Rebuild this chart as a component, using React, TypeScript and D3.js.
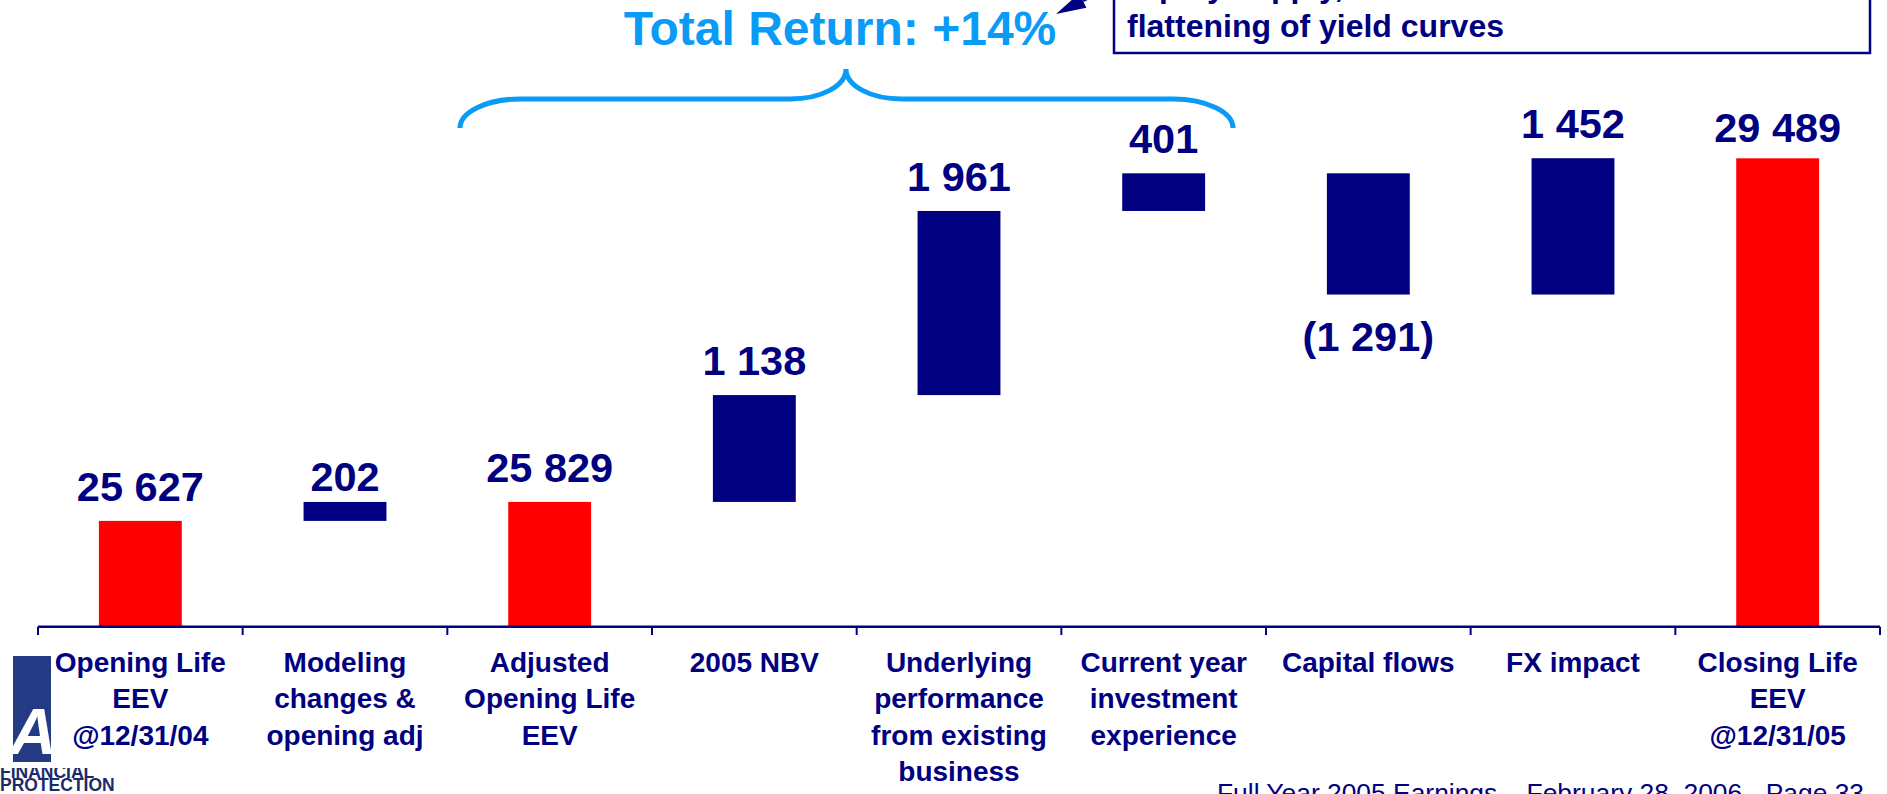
import React from "react";
import * as d3 from "d3";

const categories: string[][] = [
  ["Opening Life", "EEV", "@12/31/04"],
  ["Modeling", "changes &", "opening adj"],
  ["Adjusted", "Opening Life", "EEV"],
  ["2005 NBV"],
  ["Underlying", "performance", "from existing", "business"],
  ["Current year", "investment", "experience"],
  ["Capital flows"],
  ["FX impact"],
  ["Closing Life", "EEV", "@12/31/05"],
];
const values: number[] = [25627, 202, 25829, 1138, 1961, 401, -1291, 1452, 29489];
const isTotal: boolean[] = [true, false, true, false, false, false, false, false, true];
const valueLabels: string[] = ["25 627", "202", "25 829", "1 138", "1 961", "401", "(1 291)", "1 452", "29 489"];
const axisMin = 24500;

const title = "Total Return: +14%";
const boxLines = ["Equity supply, and", "flattening of yield curves"];
const footer = "Full Year 2005 Earnings \u2013 February 28, 2006 - Page 33";

const NAVY = "#000080";
const RED = "#FF0000";
const BLUE = "#0A9BF7";
const FONT = "'Liberation Sans', Arial, Helvetica, sans-serif";

export default function App() {
  const W = 1887;
  const H = 794;
  const x = d3
    .scaleBand<number>()
    .domain(values.map((_, i) => i))
    .range([38, 1880])
    .padding(0);
  const y = d3.scaleLinear().domain([axisMin, 29489]).range([626.7, 158.3]);
  const bw = x.bandwidth() * 0.405;

  let cum = 0;
  const bars = values.map((v, i) => {
    let lo: number, hi: number;
    if (isTotal[i]) {
      lo = axisMin;
      hi = v;
      cum = v;
    } else {
      const start = cum;
      cum = cum + v;
      lo = Math.min(start, cum);
      hi = Math.max(start, cum);
    }
    return { i, v, lo, hi };
  });

  const labelGap = (i: number) => (i === 1 ? 11 : i === 8 ? 16 : 20);

  const ticks = [...values.map((_, i) => x(i) as number), x.range()[1]];

  return (
    <svg
      width={W}
      height={H}
      style={{ position: "absolute", left: 0, top: 0, display: "block", background: "#fff" }}
      fontFamily={FONT}
    >
      <defs>
        <clipPath id="logoClip">
          <rect x={13} y={656} width={38} height={106} />
        </clipPath>
        <clipPath id="finClip">
          <rect x={0} y={768} width={130} height={30} />
        </clipPath>
      </defs>
      <rect x={0} y={0} width={W} height={H} fill="#fff" />

      {/* annotation box */}
      <rect x={1114} y={-10} width={756} height={63} fill="#fff" stroke={NAVY} strokeWidth={2.5} />
      <text x={1127} y={-3} fontSize={32} fontWeight="bold" fill={NAVY}>
        {boxLines[0]}
      </text>
      <text x={1127} y={37} fontSize={32} fontWeight="bold" fill={NAVY}>
        {boxLines[1]}
      </text>
      {/* arrow from box */}
      <line x1={1083} y1={0.6} x2={1135} y2={-25} stroke={NAVY} strokeWidth={3} />
      <polygon points="1056,14 1086.4,7.8 1079.2,-6.6" fill={NAVY} />

      {/* title */}
      <text x={840} y={45} fontSize={48} fontWeight="bold" fill={BLUE} textAnchor="middle">
        {title}
      </text>

      {/* brace */}
      <path
        d="M460,128 C460,112 487,99 520,99 L790,99 C821,99 846,86 846,69 C846,86 871,99 902,99 L1173,99 C1206,99 1233,112 1233,128"
        fill="none"
        stroke={BLUE}
        strokeWidth={5}
      />

      {/* bars */}
      {bars.map((b) => {
        const cx = (x(b.i) as number) + x.bandwidth() / 2;
        const top = y(b.hi);
        const bot = y(b.lo);
        return (
          <g key={b.i}>
            <rect
              x={cx - bw / 2}
              y={top}
              width={bw}
              height={bot - top}
              fill={isTotal[b.i] ? RED : NAVY}
            />
            <text
              x={cx}
              y={b.v < 0 ? bot + 56 : top - labelGap(b.i)}
              fontSize={41.5}
              fontWeight="bold"
              fill={NAVY}
              textAnchor="middle"
            >
              {valueLabels[b.i]}
            </text>
          </g>
        );
      })}

      {/* axis */}
      <line x1={x.range()[0]} x2={x.range()[1]} y1={626.7} y2={626.7} stroke={NAVY} strokeWidth={2.6} />
      {ticks.map((t, k) => (
        <line key={k} x1={t} x2={t} y1={626.7} y2={635} stroke={NAVY} strokeWidth={2} />
      ))}

      {/* logo */}
      <g>
        <rect x={13} y={656} width={38} height={106} fill="#233A84" />
        <g clipPath="url(#logoClip)">
          <text x={10} y={754} fontSize={64} fontWeight="bold" fontStyle="italic" fill="#fff">
            A
          </text>
        </g>
        <g clipPath="url(#finClip)">
          <text x={0} y={778} fontSize={17.5} fontWeight="bold" fill="#1B2A6B">
            FINANCIAL
          </text>
        </g>
        <text x={0} y={791} fontSize={17.5} fontWeight="bold" fill="#1B2A6B">
          PROTECTION
        </text>
      </g>

      {/* category labels */}
      {categories.map((lines, i) => {
        const cx = (x(i) as number) + x.bandwidth() / 2;
        return (
          <text key={i} x={cx} textAnchor="middle" fontSize={28} fontWeight="bold" fill={NAVY}>
            {lines.map((ln, j) => (
              <tspan key={j} x={cx} y={671.7 + j * 36.5}>
                {ln}
              </tspan>
            ))}
          </text>
        );
      })}

      {/* footer */}
      <text x={1864} y={802} fontSize={26.4} fill={NAVY} textAnchor="end">
        {footer}
      </text>
    </svg>
  );
}
